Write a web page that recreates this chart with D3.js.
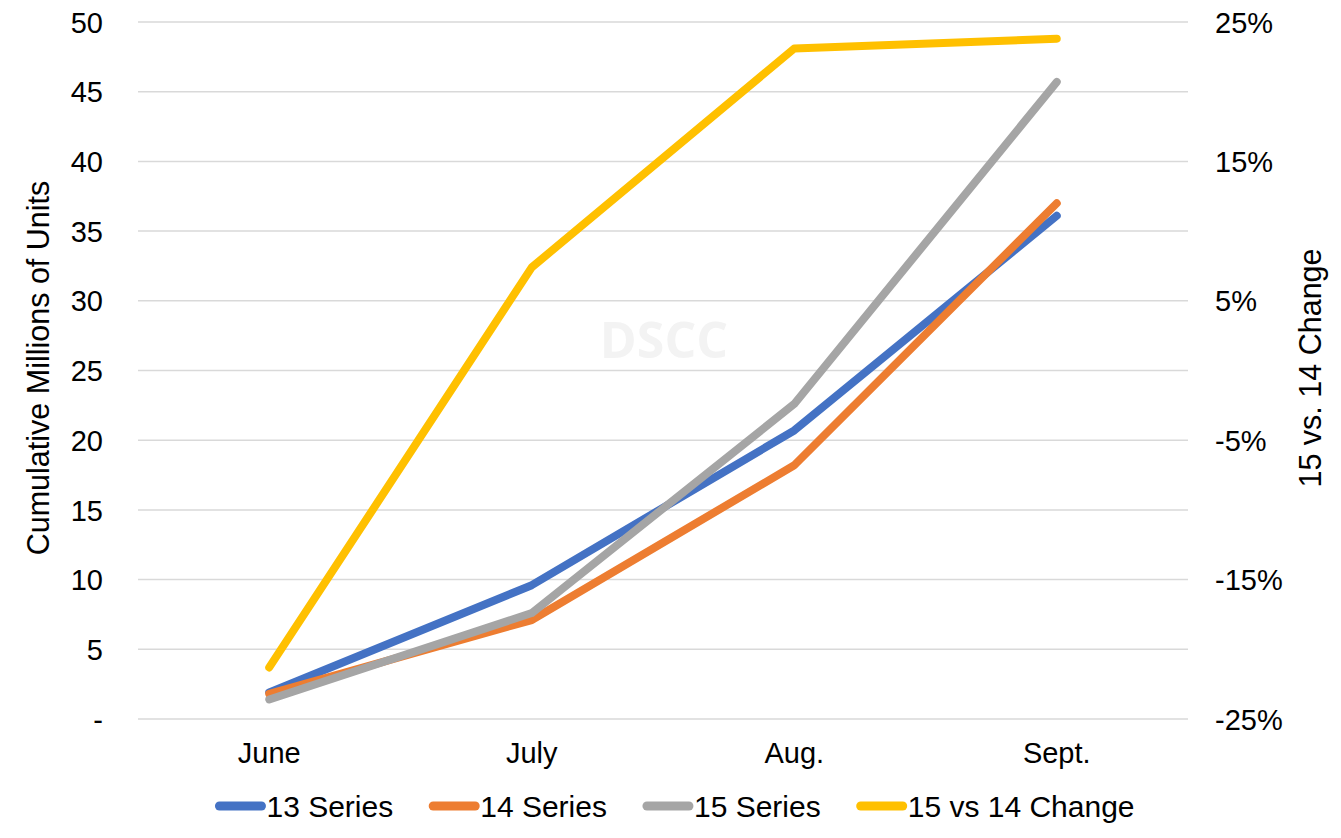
<!DOCTYPE html>
<html>
<head>
<meta charset="utf-8">
<script src="https://cdn.jsdelivr.net/npm/d3@7"></script>
<style>
  html, body { margin: 0; padding: 0; background: #fff; }
  svg { display: block; font-family: "Liberation Sans", Arial, sans-serif; }
</style>
</head>
<body>
<svg id="chart" width="1341" height="838"></svg>
<script>
const categories = ["June", "July", "Aug.", "Sept."];
const series13 = [1.9, 9.6, 20.7, 36.1];
const series14 = [1.8, 7.1, 18.2, 37.0];
const series15 = [1.4, 7.6, 22.6, 45.7];
const change15vs14 = [-21.3, 7.4, 23.1, 23.8];
const leftTicks = [0, 5, 10, 15, 20, 25, 30, 35, 40, 45, 50];
const rightTicks = [-25, -15, -5, 5, 15, 25];
const seriesNames = ["13 Series", "14 Series", "15 Series", "15 vs 14 Change"];
const colors = ["#4472C4", "#ED7D31", "#A5A5A5", "#FFC000"];

const svg = d3.select("#chart");
const margin = { left: 138, right: 1188, top: 22, bottom: 719 };

const x = d3.scaleBand().domain(categories).range([margin.left, margin.right]);
const xc = d => x(d) + x.bandwidth() / 2;
const yL = d3.scaleLinear().domain([0, 50]).range([margin.bottom, margin.top]);
const yR = d3.scaleLinear().domain([-25, 25]).range([margin.bottom, margin.top]);

// gridlines
svg.append("g").selectAll("line").data(leftTicks).join("line")
  .attr("x1", margin.left).attr("x2", margin.right)
  .attr("y1", d => yL(d)).attr("y2", d => yL(d))
  .attr("stroke", "#d9d9d9").attr("stroke-width", 1.5);

// left axis
const leftAxis = d3.axisLeft(yL).tickValues(leftTicks).tickSize(0).tickPadding(0)
  .tickFormat(d => d === 0 ? "-" : d);
const gL = svg.append("g").attr("transform", `translate(103,0)`).call(leftAxis);
gL.select(".domain").remove();
gL.selectAll("text").attr("font-size", 29).attr("fill", "#000")
  .attr("font-family", "'Liberation Sans', Arial, sans-serif").attr("dy", "0.35em");

// right axis
const rightAxis = d3.axisRight(yR).tickValues(rightTicks).tickSize(0).tickPadding(0)
  .tickFormat(d => d + "%");
const gR = svg.append("g").attr("transform", `translate(1215,0)`).call(rightAxis);
gR.select(".domain").remove();
gR.selectAll("text").attr("font-size", 29).attr("fill", "#000")
  .attr("font-family", "'Liberation Sans', Arial, sans-serif").attr("dy", "0.35em");

// x axis labels
const xAxis = d3.axisBottom(x).tickSize(0).tickPadding(0);
const gX = svg.append("g").attr("transform", `translate(0,763)`).call(xAxis);
gX.select(".domain").remove();
gX.selectAll("text").attr("font-size", 29).attr("fill", "#000")
  .attr("font-family", "'Liberation Sans', Arial, sans-serif").attr("dy", "0");

// axis titles
svg.append("text").attr("transform", "translate(49,368) rotate(-90)")
  .attr("text-anchor", "middle").attr("font-size", 30.5).attr("fill", "#000")
  .text("Cumulative Millions of Units");
svg.append("text").attr("transform", "translate(1321,368) rotate(-90)")
  .attr("text-anchor", "middle").attr("font-size", 30.5).attr("fill", "#000")
  .text("15 vs. 14 Change");

// watermark
svg.append("text").attr("x", 664).attr("y", 358).attr("text-anchor", "middle")
  .attr("font-family", "'Open Sans', sans-serif").attr("font-weight", "bold")
  .attr("font-size", 50).attr("fill", "#f3f3f3").text("DSCC");

// lines
const seriesData = [
  { vals: series13, scale: yL },
  { vals: series14, scale: yL },
  { vals: series15, scale: yL },
  { vals: change15vs14, scale: yR }
];
seriesData.forEach((s, i) => {
  const line = d3.line().x((d, j) => xc(categories[j])).y(d => s.scale(d));
  svg.append("path").datum(s.vals).attr("d", line)
    .attr("fill", "none").attr("stroke", colors[i]).attr("stroke-width", 8)
    .attr("stroke-linecap", "round").attr("stroke-linejoin", "round");
});

// legend
const leg = svg.append("g");
let cx = 0;
seriesNames.forEach((name, i) => {
  const g = leg.append("g");
  g.append("line").attr("x1", 4).attr("x2", 46).attr("y1", 0).attr("y2", 0)
    .attr("stroke", colors[i]).attr("stroke-width", 9).attr("stroke-linecap", "round");
  const t = g.append("text").attr("x", 51).attr("y", 0).attr("dy", "0.35em")
    .attr("font-size", 30).attr("fill", "#000").text(name);
  const w = 51 + t.node().getComputedTextLength();
  g.attr("transform", `translate(${cx},0)`);
  cx += w + 36;
});
const total = cx - 36;
leg.attr("transform", `translate(${675 - total / 2},806)`);
</script>
</body>
</html>
